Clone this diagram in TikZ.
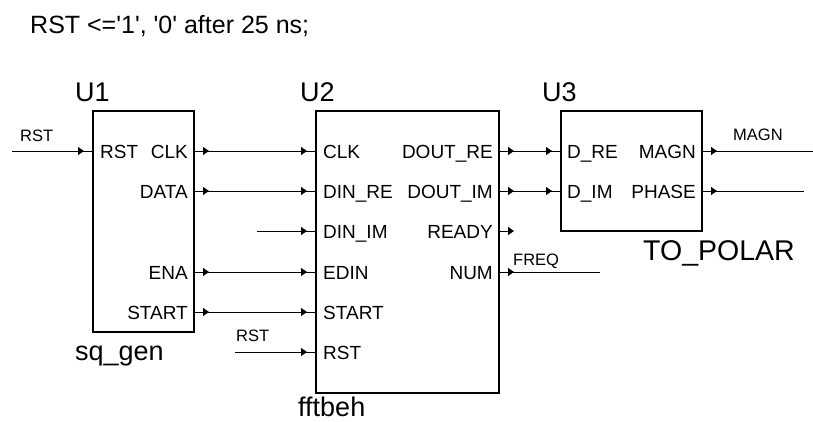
\documentclass[tikz,border=0pt]{standalone}
\usepackage{fontspec}
\setmainfont{Liberation Sans}[Ligatures=TeXOff]
\usetikzlibrary{arrows.meta}
\tikzset{
  blk/.style={draw, line width=1.6pt, inner sep=0pt, outer sep=0pt, anchor=north west},
  wire/.style={line width=0.9pt},
  outpin/.style={line width=0.9pt, -{Triangle[length=6pt,width=8pt]}},
  pinlbl/.style={font=\fontsize{19}{22}\selectfont, inner sep=0pt},
  biglbl/.style={font=\fontsize{27}{30}\selectfont, inner sep=0pt, anchor=base west},
  wirelbl/.style={font=\fontsize{16.5}{19}\selectfont, inner sep=0pt, anchor=base west},
}
\begin{document}
\begin{tikzpicture}[x=1pt, y=-1pt]
\useasboundingbox (0,0) rectangle (813,421);
% title
\node[biglbl, font=\fontsize{25}{28}\selectfont] (title) at (30,33) {RST <='1', '0' after 25 ns;};
% boxes
\node[blk, minimum width=101pt, minimum height=221pt] (u1) at (93,111) {};
\node[blk, minimum width=183pt, minimum height=282pt] (u2) at (316,111) {};
\node[blk, minimum width=141pt, minimum height=120pt] (u3) at (561,111) {};
% instance labels
\node[biglbl] (u1n) at (75,101) {U1};
\node[biglbl] (u2n) at (300,101) {U2};
\node[biglbl] (u3n) at (542,101) {U3};
\node[biglbl] (u1t) at (75,360) {sq\_gen};
\node[biglbl] (u2t) at (298,416) {fftbeh};
\node[biglbl, font=\fontsize{28.5}{31}\selectfont] (u3t) at (643,260) {TO\_POLAR};
% pin coordinates
\coordinate (u1rst) at (93,151);
\coordinate (u1clk) at (194,151);
\coordinate (u1data) at (194,191);
\coordinate (u1ena) at (194,272);
\coordinate (u1start) at (194,312);
\coordinate (u2clk) at (316,151);
\coordinate (u2dinre) at (316,191);
\coordinate (u2dinim) at (316,231);
\coordinate (u2edin) at (316,272);
\coordinate (u2start) at (316,312);
\coordinate (u2rst) at (316,352);
\coordinate (u2doutre) at (499,151);
\coordinate (u2doutim) at (499,191);
\coordinate (u2ready) at (499,231);
\coordinate (u2num) at (499,272);
\coordinate (u3dre) at (561,151);
\coordinate (u3dim) at (561,191);
\coordinate (u3magn) at (702,151);
\coordinate (u3phase) at (702,191);
% free wire ends
\coordinate (rstin) at (12,151);
\coordinate (dinimin) at (257,231);
\coordinate (rst2in) at (235,352);
\coordinate (freqout) at (600,272);
\coordinate (magnout) at (813,151);
\coordinate (phaseout) at (804,191);
% pin labels U1
\node[pinlbl, anchor=base west] (l1) at (100,158) {RST};
\node[pinlbl, anchor=base east] (l2) at (188,158) {CLK};
\node[pinlbl, anchor=base east] (l3) at (188,198) {DATA};
\node[pinlbl, anchor=base east] (l4) at (188,279) {ENA};
\node[pinlbl, anchor=base east] (l5) at (188,319) {START};
% pin labels U2
\node[pinlbl, anchor=base west] (l6) at (323,158) {CLK};
\node[pinlbl, anchor=base west] (l7) at (323,198) {DIN\_RE};
\node[pinlbl, anchor=base west] (l8) at (323,238) {DIN\_IM};
\node[pinlbl, anchor=base west] (l9) at (323,279) {EDIN};
\node[pinlbl, anchor=base west] (l10) at (323,319) {START};
\node[pinlbl, anchor=base west] (l11) at (323,359) {RST};
\node[pinlbl, anchor=base east] (l12) at (493,158) {DOUT\_RE};
\node[pinlbl, anchor=base east] (l13) at (493,198) {DOUT\_IM};
\node[pinlbl, anchor=base east] (l14) at (493,238) {READY};
\node[pinlbl, anchor=base east] (l15) at (493,279) {NUM};
% pin labels U3
\node[pinlbl, anchor=base west] (l16) at (567,158) {D\_RE};
\node[pinlbl, anchor=base west] (l17) at (567,198) {D\_IM};
\node[pinlbl, anchor=base east] (l18) at (696,158) {MAGN};
\node[pinlbl, anchor=base east] (l19) at (696,198) {PHASE};
% wires
\draw[wire] (rstin) -- (u1rst);
\draw[wire] (u1clk) -- (u2clk);
\draw[wire] (u1data) -- (u2dinre);
\draw[wire] (dinimin) -- (u2dinim);
\draw[wire] (u1ena) -- (u2edin);
\draw[wire] (u1start) -- (u2start);
\draw[wire] (rst2in) -- (u2rst);
\draw[wire] (u2doutre) -- (u3dre);
\draw[wire] (u2doutim) -- (u3dim);
\draw[wire] (u2num) -- (freqout);
\draw[wire] (u3magn) -- (magnout);
\draw[wire] (u3phase) -- (phaseout);
% output pin arrows
\foreach \p in {u1clk,u1data,u1ena,u1start,u2doutre,u2doutim,u2ready,u2num,u3magn,u3phase}
  \draw[outpin] (\p) -- ++(15,0);
% input pin arrows
\foreach \p in {u1rst,u2clk,u2dinre,u2dinim,u2edin,u2start,u2rst,u3dre,u3dim}
  \draw[outpin] ([xshift=-16pt]\p) -- ++(7,0);
% wire labels
\node[wirelbl] (w1) at (20,141) {RST};
\node[wirelbl] (w2) at (236,341) {RST};
\node[wirelbl] (w3) at (513,265) {FREQ};
\node[wirelbl] (w4) at (733,140) {MAGN};
\end{tikzpicture}
\end{document}
